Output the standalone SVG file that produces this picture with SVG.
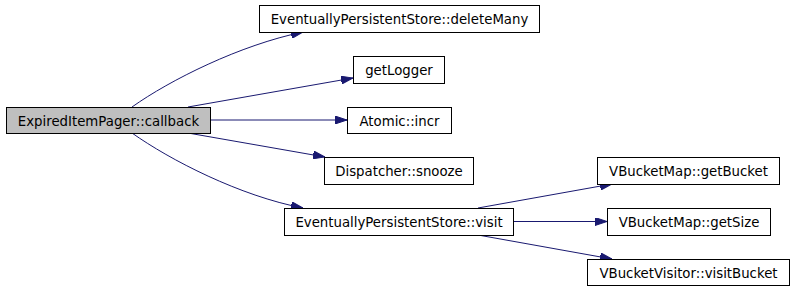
<svg xmlns="http://www.w3.org/2000/svg" width="795" height="291" viewBox="0 0 795 291">
  <style>
    .node rect { fill: #ffffff; stroke: #000000; stroke-width: 1; }
    .node.root rect { fill: #bfbfbf; }
    .node text { font-family: "DejaVu Sans", "Liberation Sans", sans-serif; font-size: 13.3px; fill: #000000; text-anchor: middle; }
    .edge { fill: none; stroke: #191970; stroke-width: 1; marker-end: url(#arrow); }
  </style>
  <defs>
    <marker id="arrow" viewBox="0 0 12 8" refX="12" refY="4" markerWidth="12" markerHeight="8" markerUnits="userSpaceOnUse" orient="auto">
      <path d="M0,0 L12,4 L0,8 z" fill="#191970" stroke="#191970" stroke-width="1"/>
    </marker>
  </defs>
  <rect x="0" y="0" width="795" height="291" fill="#ffffff"/>

  <g id="connectors">
    <path class="edge" d="M132,107 C170,80 240,45 303,32"/>
    <path class="edge" d="M188,107 L353,78"/>
    <path class="edge" d="M210,120 L347,120"/>
    <path class="edge" d="M188,133 L325,157"/>
    <path class="edge" d="M132,133 C170,160 240,196 303,208"/>
    <path class="edge" d="M478,208 L612,184"/>
    <path class="edge" d="M513,221.5 L607,221.5"/>
    <path class="edge" d="M478,235 L612,259"/>
  </g>

  <g id="callback" class="node root">
    <rect x="6.5" y="107.5" width="204" height="26"/>
    <text x="108.5" y="125.5">ExpiredItemPager::callback</text>
  </g>
  <g id="deleteMany" class="node">
    <rect x="259.5" y="5.5" width="280" height="27"/>
    <text x="399.5" y="23.5">EventuallyPersistentStore::deleteMany</text>
  </g>
  <g id="getLogger" class="node">
    <rect x="353.5" y="56.5" width="91" height="27"/>
    <text x="399" y="74.5">getLogger</text>
  </g>
  <g id="incr" class="node">
    <rect x="347.5" y="107.5" width="104" height="26"/>
    <text x="399.5" y="125.5">Atomic::incr</text>
  </g>
  <g id="snooze" class="node">
    <rect x="324.5" y="157.5" width="149" height="27"/>
    <text x="399" y="175.5">Dispatcher::snooze</text>
  </g>
  <g id="visit" class="node">
    <rect x="284.5" y="208.5" width="229" height="27"/>
    <text x="399" y="226.5">EventuallyPersistentStore::visit</text>
  </g>
  <g id="getBucket" class="node">
    <rect x="597.5" y="157.5" width="182" height="27"/>
    <text x="688.5" y="175.5">VBucketMap::getBucket</text>
  </g>
  <g id="getSize" class="node">
    <rect x="607.5" y="208.5" width="163" height="27"/>
    <text x="689" y="226.5">VBucketMap::getSize</text>
  </g>
  <g id="visitBucket" class="node">
    <rect x="587.5" y="259.5" width="202" height="26"/>
    <text x="688.5" y="277.5">VBucketVisitor::visitBucket</text>
  </g>
</svg>
